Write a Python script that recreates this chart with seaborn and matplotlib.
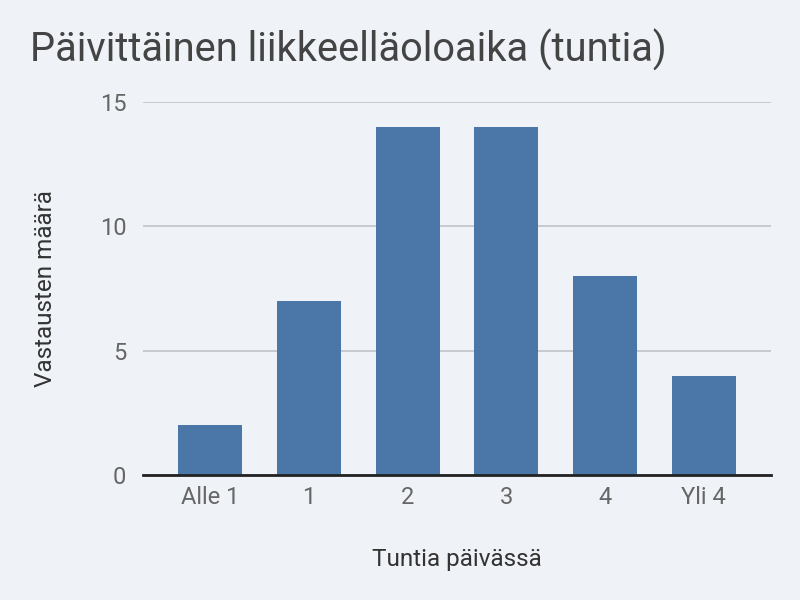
import matplotlib
matplotlib.use("Agg")
import matplotlib.pyplot as plt
import seaborn as sns
import pandas as pd

categories = ["Alle 1", "1", "2", "3", "4", "Yli 4"]
values = [2, 7, 14, 14, 8, 4]
yticks = [0, 5, 10, 15]

title = "Päivittäinen liikkeelläoloaika (tuntia)"
xlabel = "Tuntia päivässä"
ylabel = "Vastausten määrä"

sns.set_theme(style="white")
plt.rcParams['font.family'] = ['Roboto', 'DejaVu Sans']

bg = "#eff2f7"
bar_color = "#4a76a8"

df = pd.DataFrame({"cat": categories, "val": values})

fig = plt.figure(figsize=(8, 6), dpi=100, facecolor=bg)
ax = fig.add_axes([143/800, 1 - 475/600, 628/800, 373/600])
ax.set_facecolor(bg)

sns.barplot(data=df, x="cat", y="val", color=bar_color, width=0.65,
            saturation=1, ax=ax, zorder=3, linewidth=0, edgecolor="none")

ax.set_xlim(-0.68, 5.68)
ax.set_ylim(0, 15)
ax.set_yticks(yticks)
ax.set_yticklabels([str(t) for t in yticks])
ax.grid(axis="y", color="#c0c3c8", linewidth=1.2, zorder=0)
for s in ["top", "right", "left"]:
    ax.spines[s].set_visible(False)
ax.spines["bottom"].set_color("#222222")
ax.spines["bottom"].set_linewidth(2)
ax.spines["bottom"].set_zorder(4)
ax.tick_params(axis="both", length=0, labelsize=17, labelcolor="#666666")
ax.tick_params(axis="y", pad=12)
ax.tick_params(axis="x", pad=8)

ax.set_xlabel(xlabel, fontsize=17.5, color="#333333", labelpad=28)
ax.set_ylabel(ylabel, fontsize=17.5, color="#333333", labelpad=31)

fig.text(30/800, 1 - 62/600, title, fontsize=28.7, color="#444444",
         ha="left", va="baseline")

fig.savefig("out.png", dpi=100, facecolor=bg)
